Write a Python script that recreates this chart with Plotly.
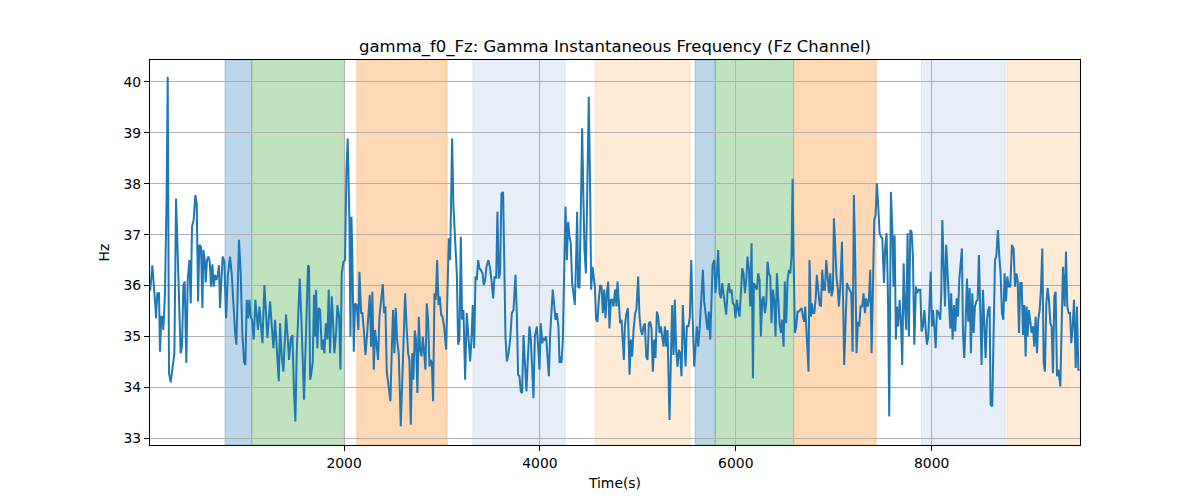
import plotly.graph_objects as go

time_s = [
    20, 42, 73, 79, 93, 110, 120, 134, 148, 154, 171, 188, 199, 212, 229, 246, 267, 284, 308, 331,
    345, 359, 372, 389, 403, 420, 434, 447, 464, 481, 495, 509, 522, 539, 553, 563, 577, 587, 600, 614,
    628, 641, 655, 669, 682, 696, 710, 723, 733, 747, 760, 777, 795, 812, 835, 852, 870, 887, 900, 914,
    927, 944, 961, 978, 992, 1006, 1019, 1033, 1046, 1060, 1077, 1094, 1108, 1121, 1135, 1149, 1166, 1186, 1203, 1217,
    1244, 1261, 1278, 1295, 1309, 1322, 1333, 1346, 1363, 1380, 1394, 1407, 1421, 1438, 1455, 1472, 1489, 1503, 1516, 1533,
    1547, 1564, 1578, 1591, 1605, 1619, 1632, 1642, 1653, 1666, 1680, 1693, 1704, 1714, 1727, 1741, 1755, 1772, 1785, 1799,
    1813, 1830, 1843, 1857, 1874, 1888, 1901, 1918, 1932, 1949, 1963, 1976, 1993, 2010, 2024, 2037, 2054, 2065, 2075, 2085,
    2099, 2112, 2129, 2146, 2157, 2174, 2187, 2204, 2218, 2232, 2249, 2262, 2276, 2289, 2303, 2317, 2334, 2347, 2361, 2381,
    2395, 2409, 2422, 2436, 2453, 2473, 2487, 2500, 2514, 2528, 2541, 2558, 2579, 2599, 2613, 2623, 2640, 2654, 2667, 2681,
    2695, 2708, 2722, 2735, 2749, 2763, 2776, 2790, 2804, 2817, 2831, 2844, 2858, 2872, 2885, 2896, 2909, 2923, 2936, 2950,
    2964, 2977, 2991, 3004, 3021, 3042, 3056, 3069, 3083, 3103, 3117, 3134, 3151, 3165, 3178, 3192, 3205, 3219, 3236, 3253,
    3270, 3287, 3301, 3314, 3328, 3342, 3355, 3369, 3382, 3396, 3413, 3427, 3440, 3454, 3474, 3491, 3508, 3522, 3536, 3553,
    3566, 3580, 3593, 3607, 3624, 3638, 3648, 3662, 3679, 3696, 3713, 3730, 3740, 3750, 3764, 3777, 3791, 3805, 3818, 3832,
    3849, 3862, 3876, 3893, 3907, 3920, 3934, 3948, 3968, 3982, 3995, 4009, 4023, 4036, 4050, 4063, 4077, 4091, 4104, 4118,
    4131, 4145, 4159, 4172, 4189, 4200, 4206, 4220, 4234, 4247, 4261, 4275, 4288, 4302, 4315, 4329, 4343, 4356, 4370, 4380,
    4390, 4404, 4418, 4431, 4445, 4455, 4469, 4482, 4499, 4513, 4523, 4537, 4547, 4561, 4574, 4588, 4601, 4615, 4629, 4642,
    4656, 4670, 4683, 4697, 4710, 4724, 4738, 4751, 4768, 4782, 4792, 4806, 4819, 4833, 4847, 4857, 4867, 4881, 4898, 4915,
    4928, 4942, 4956, 4973, 4986, 5003, 5017, 5030, 5044, 5058, 5071, 5085, 5099, 5112, 5126, 5139, 5153, 5167, 5180, 5194,
    5208, 5221, 5235, 5248, 5262, 5276, 5289, 5303, 5313, 5323, 5337, 5350, 5364, 5378, 5391, 5405, 5419, 5432, 5446, 5459,
    5473, 5487, 5500, 5517, 5531, 5545, 5558, 5575, 5589, 5603, 5616, 5630, 5647, 5664, 5677, 5694, 5711, 5725, 5739, 5752,
    5763, 5780, 5793, 5807, 5820, 5834, 5848, 5861, 5875, 5888, 5902, 5916, 5929, 5943, 5957, 5970, 5984, 5997, 6011, 6025,
    6038, 6052, 6066, 6079, 6093, 6107, 6120, 6134, 6147, 6161, 6175, 6185, 6198, 6215, 6229, 6243, 6256, 6270, 6283, 6297,
    6311, 6324, 6338, 6352, 6365, 6379, 6392, 6406, 6420, 6433, 6447, 6461, 6474, 6488, 6501, 6515, 6529, 6542, 6556, 6569,
    6580, 6590, 6604, 6617, 6631, 6644, 6658, 6672, 6685, 6699, 6709, 6719, 6733, 6743, 6753, 6767, 6777, 6787, 6801, 6815,
    6828, 6842, 6856, 6869, 6883, 6896, 6910, 6924, 6937, 6951, 6965, 6978, 6992, 7002, 7016, 7029, 7043, 7053, 7067, 7084,
    7097, 7107, 7121, 7135, 7148, 7162, 7179, 7193, 7206, 7220, 7233, 7247, 7261, 7274, 7291, 7305, 7319, 7332, 7346, 7359,
    7373, 7387, 7400, 7414, 7428, 7441, 7455, 7468, 7482, 7496, 7513, 7526, 7540, 7554, 7567, 7584, 7598, 7611, 7622, 7635,
    7645, 7659, 7673, 7686, 7700, 7714, 7727, 7741, 7754, 7768, 7782, 7795, 7809, 7823, 7840, 7853, 7867, 7884, 7897, 7911,
    7925, 7938, 7952, 7966, 7979, 7990, 8003, 8013, 8030, 8041, 8054, 8071, 8088, 8098, 8109, 8122, 8136, 8149, 8163, 8177,
    8190, 8200, 8214, 8228, 8241, 8255, 8269, 8282, 8296, 8309, 8320, 8333, 8347, 8361, 8374, 8388, 8401, 8415, 8429, 8442,
    8456, 8470, 8483, 8497, 8510, 8524, 8538, 8551, 8565, 8578, 8592, 8602, 8619, 8633, 8647, 8660, 8677, 8691, 8704, 8718,
    8732, 8745, 8759, 8773, 8786, 8803, 8820, 8837, 8851, 8864, 8878, 8892, 8905, 8919, 8933, 8946, 8960, 8970, 8980, 8994,
    9008, 9021, 9035, 9048, 9062, 9076, 9089, 9103, 9116, 9130, 9144, 9157, 9171, 9185, 9198, 9212, 9225, 9239, 9253, 9266,
    9280, 9294, 9314, 9328, 9341, 9358, 9372, 9385, 9399, 9413, 9426, 9440, 9454, 9471, 9484, 9498, 9511,
]

hz_values = [
    35.90, 36.40, 35.59, 35.36, 35.85, 35.85, 34.70, 35.39, 35.39, 35.13, 35.85, 37.81, 40.10, 34.28, 34.10, 34.41, 34.67, 37.71, 36.24, 34.67,
    34.80, 36.01, 36.08, 34.48, 36.11, 36.50, 35.65, 37.16, 37.29, 37.78, 37.61, 35.69, 36.80, 36.76, 35.56, 36.70, 36.50, 36.06, 36.50, 36.57,
    36.47, 35.98, 36.42, 35.98, 36.21, 36.11, 36.21, 36.40, 35.56, 36.24, 36.57, 36.47, 35.36, 36.18, 36.57, 36.24, 35.59, 35.07, 34.84, 36.18,
    36.90, 36.24, 35.07, 34.51, 34.44, 35.72, 35.36, 35.72, 35.39, 35.33, 34.94, 35.72, 35.39, 35.13, 35.59, 35.26, 34.87, 36.01, 35.33, 34.97,
    35.69, 35.26, 34.77, 35.33, 34.84, 34.54, 34.12, 35.26, 34.61, 34.31, 34.80, 35.43, 35.07, 34.54, 34.94, 35.03, 33.89, 33.33, 34.67, 35.72,
    36.14, 35.33, 34.41, 33.76, 34.67, 35.59, 36.40, 36.37, 34.15, 34.28, 34.51, 35.82, 35.00, 35.92, 34.77, 35.56, 35.52, 34.74, 34.94, 34.67,
    35.26, 34.94, 35.92, 34.67, 35.79, 35.26, 34.67, 35.07, 35.62, 35.39, 34.35, 36.24, 36.47, 36.50, 38.27, 38.89, 37.29, 35.00, 37.35, 36.50,
    34.70, 35.65, 35.62, 35.13, 36.27, 35.46, 35.46, 35.07, 34.64, 34.97, 35.46, 35.82, 34.80, 35.88, 34.35, 35.13, 34.80, 34.54, 35.39, 35.72,
    36.03, 35.46, 35.59, 34.31, 34.08, 33.73, 34.74, 35.52, 34.67, 35.56, 34.94, 34.67, 33.24, 34.28, 35.07, 35.85, 35.13, 34.67, 34.54, 33.27,
    34.67, 34.15, 35.12, 34.94, 33.89, 35.39, 34.74, 34.61, 35.00, 34.67, 34.35, 35.65, 35.33, 34.41, 34.54, 34.48, 33.73, 35.85, 35.72, 36.50,
    35.62, 35.79, 35.43, 35.39, 35.20, 34.74, 36.11, 36.93, 36.50, 38.89, 37.55, 36.90, 36.24, 34.84, 34.94, 36.96, 35.33, 35.52, 34.15, 35.46,
    34.87, 34.51, 34.94, 35.62, 34.77, 36.18, 36.11, 36.50, 36.34, 36.31, 36.24, 36.01, 36.11, 36.37, 36.50, 36.34, 36.05, 35.75, 36.18, 36.14,
    37.45, 36.14, 36.24, 37.81, 37.84, 36.31, 35.00, 34.51, 34.67, 34.94, 35.46, 35.52, 35.79, 36.21, 35.46, 34.25, 34.22, 33.92, 33.89, 35.03,
    34.41, 33.92, 34.54, 35.20, 34.94, 34.41, 33.79, 35.00, 35.20, 34.80, 34.35, 35.26, 34.87, 34.97, 34.94, 35.00, 34.67, 34.22, 35.03, 35.62,
    35.92, 35.62, 35.33, 35.46, 35.20, 34.48, 34.61, 34.48, 34.94, 36.24, 37.55, 36.50, 37.25, 36.96, 36.83, 36.05, 35.79, 35.62, 36.57, 37.45,
    35.98, 35.95, 37.55, 39.09, 37.61, 36.70, 36.24, 37.94, 39.71, 37.81, 35.92, 36.37, 36.24, 35.98, 35.33, 35.29, 35.72, 36.01, 35.98, 35.46,
    35.92, 35.36, 35.85, 36.08, 35.16, 35.72, 35.72, 35.59, 35.92, 35.59, 36.08, 35.59, 35.26, 35.33, 34.94, 34.54, 35.20, 35.43, 35.56, 34.25,
    34.94, 34.61, 35.13, 35.46, 35.54, 36.18, 35.39, 35.13, 35.03, 35.20, 35.26, 34.61, 34.54, 35.26, 35.29, 35.16, 34.31, 34.94, 34.58, 35.49,
    35.39, 35.07, 35.20, 35.00, 34.80, 35.20, 34.80, 35.13, 34.28, 33.36, 34.54, 35.62, 34.64, 35.72, 34.74, 34.41, 34.74, 34.67, 34.22, 35.62,
    35.00, 34.41, 35.20, 35.20, 35.39, 36.50, 35.46, 34.41, 34.80, 35.20, 34.80, 35.13, 35.72, 36.31, 35.69, 35.33, 35.13, 35.49, 34.94, 35.72,
    36.40, 36.50, 35.85, 36.24, 36.70, 35.85, 35.75, 36.05, 35.85, 35.59, 35.43, 35.88, 36.05, 35.85, 35.92, 35.65, 35.62, 35.36, 35.72, 35.52,
    35.39, 35.85, 36.34, 36.24, 35.85, 36.11, 36.57, 36.31, 35.59, 36.83, 34.18, 36.05, 35.98, 35.92, 36.24, 36.11, 35.00, 35.72, 35.79, 35.46,
    35.65, 36.47, 36.24, 36.18, 35.26, 35.92, 35.72, 35.00, 36.24, 35.85, 35.26, 35.07, 35.33, 34.80, 36.08, 35.26, 36.11, 36.31, 36.24, 36.57,
    38.10, 36.57, 35.07, 35.20, 35.49, 35.49, 35.52, 35.56, 35.39, 35.29, 35.59, 35.20, 34.87, 34.31, 36.50, 35.39, 35.65, 35.46, 35.46, 35.72,
    36.21, 35.85, 35.62, 35.59, 36.31, 35.92, 35.92, 36.50, 36.24, 35.85, 36.24, 35.79, 35.92, 37.32, 36.76, 36.14, 35.92, 35.59, 35.98, 36.86,
    35.59, 34.44, 35.26, 36.05, 35.98, 35.92, 35.85, 34.70, 37.78, 36.50, 34.67, 35.29, 35.20, 35.59, 35.59, 35.85, 35.46, 35.75, 35.59, 35.72,
    36.31, 34.67, 35.85, 37.29, 37.39, 38.01, 37.55, 37.03, 36.96, 36.93, 36.05, 36.76, 37.03, 35.79, 33.43, 37.84, 37.12, 35.98, 36.99, 34.94,
    35.59, 35.20, 35.72, 35.33, 34.44, 36.44, 35.59, 35.13, 37.03, 35.00, 37.09, 37.06, 36.57, 34.84, 35.98, 35.85, 35.92, 35.92, 35.10, 35.20,
    35.52, 35.20, 34.84, 35.00, 35.85, 36.27, 35.20, 35.52, 35.13, 34.77, 35.52, 35.46, 35.33, 35.85, 37.29, 36.50, 35.59, 36.80, 36.18, 35.46,
    35.16, 35.85, 34.94, 35.62, 35.10, 35.75, 35.39, 36.11, 36.50, 36.73, 35.07, 34.58, 35.26, 36.14, 35.29, 35.95, 34.67, 35.85, 35.07, 35.59,
    35.69, 35.72, 36.60, 35.13, 34.44, 35.92, 35.13, 34.58, 35.33, 35.52, 35.59, 33.66, 33.63, 34.87, 36.50, 36.57, 37.09, 36.57, 36.24, 35.46,
    35.33, 36.24, 35.69, 36.18, 35.98, 35.98, 36.80, 36.73, 35.98, 36.24, 36.11, 35.07, 36.05, 36.05, 35.03, 35.62, 34.61, 35.59, 35.00, 35.52,
    35.20, 35.07, 35.20, 34.80, 35.39, 34.67, 35.33, 35.52, 35.92, 36.73, 34.48, 34.31, 35.65, 35.95, 35.72, 35.26, 35.20, 34.28, 35.79, 35.88,
    34.22, 34.35, 34.02, 35.33, 36.37, 35.59, 36.67, 35.59, 35.46, 35.46, 34.87, 35.20, 35.72, 34.38, 35.59, 34.35, 34.35,
]

band_start = [784, 1057, 2130, 3315, 4564, 5585, 5789, 6592, 7894, 8769]
band_end = [1057, 2003, 3052, 4258, 5534, 5789, 6590, 7434, 8752, 9518]
band_color = [
    "rgba(31,119,180,0.3)", "rgba(44,160,44,0.3)", "rgba(255,127,14,0.3)",
    "rgba(174,199,232,0.3)", "rgba(255,187,120,0.3)",
    "rgba(31,119,180,0.3)", "rgba(44,160,44,0.3)", "rgba(255,127,14,0.3)",
    "rgba(174,199,232,0.3)", "rgba(255,187,120,0.3)",
]

x_ticks = [2000, 4000, 6000, 8000]
y_ticks = [33, 34, 35, 36, 37, 38, 39, 40]

fig = go.Figure()

for s, e, c in zip(band_start, band_end, band_color):
    fig.add_vrect(x0=s, x1=e, fillcolor=c, line=dict(color=c, width=1), layer="below")

fig.add_trace(go.Scatter(
    x=time_s, y=hz_values, mode="lines",
    line=dict(color="#1f77b4", width=2),
    showlegend=False,
))

font_family = "DejaVu Sans, sans-serif"
fig.update_layout(
    width=1200, height=500,
    margin=dict(l=150, r=120, t=60, b=55),
    paper_bgcolor="white", plot_bgcolor="white",
    font=dict(family=font_family, size=13.9, color="black"),
    title=dict(text="gamma_f0_Fz: Gamma Instantaneous Frequency (Fz Channel)",
               x=0.5, xref="paper", xanchor="center", y=0.908, yanchor="middle",
               font=dict(size=16.5, family=font_family, color="black")),
    showlegend=False,
)
fig.update_xaxes(
    range=[18, 9515], tickvals=x_ticks, ticks="outside", ticklen=5, tickwidth=1,
    tickcolor="black", showgrid=True, gridcolor="#b0b0b0", gridwidth=1,
    showline=True, linecolor="black", linewidth=1, mirror=True, zeroline=False,
    title=dict(text="Time(s)", font=dict(size=13.9), standoff=8),
)
fig.update_yaxes(
    range=[32.87, 40.43], tickvals=y_ticks, ticks="outside", ticklen=5, tickwidth=1,
    tickcolor="black", showgrid=True, gridcolor="#b0b0b0", gridwidth=1,
    showline=True, linecolor="black", linewidth=1, mirror=True, zeroline=False,
    title=dict(text="Hz", font=dict(size=13.9), standoff=10),
)

fig.write_html("out.html")
